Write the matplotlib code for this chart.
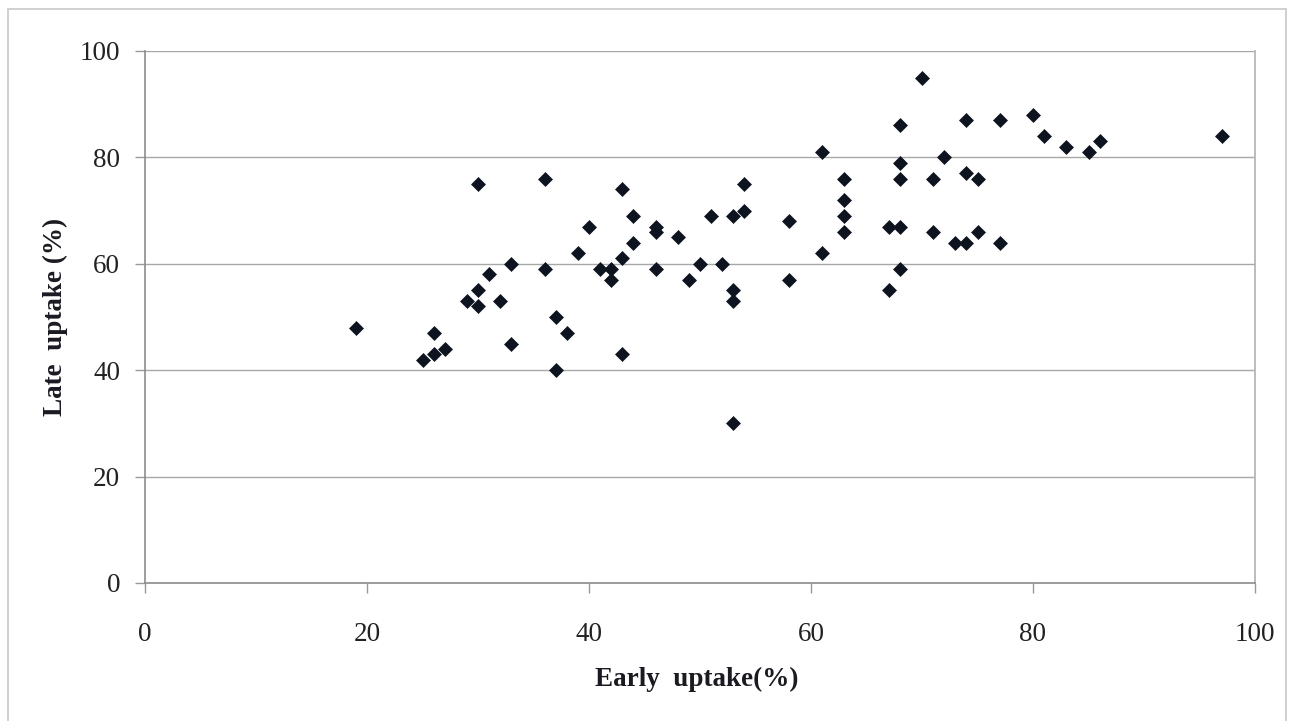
import matplotlib
matplotlib.use("Agg")
import matplotlib.pyplot as plt
from matplotlib.patches import Rectangle

# early / late uptake (%)
early = [19, 25, 26, 26, 27, 29, 30, 30, 30, 31, 32, 33, 33, 36, 36, 37, 37, 38,
         39, 40, 41, 42, 42, 43, 43, 43, 44, 44, 46, 46, 46, 48, 49, 50, 51, 52,
         53, 53, 53, 53, 54, 54, 58, 58, 61, 61, 63, 63, 63, 63, 67, 67, 68, 68,
         68, 68, 68, 70, 71, 71, 72, 73, 74, 74, 74, 75, 75, 77, 77, 80, 81, 83,
         85, 86, 97]
late = [48, 42, 43, 47, 44, 53, 55, 52, 75, 58, 53, 45, 60, 76, 59, 50, 40, 47,
        62, 67, 59, 59, 57, 74, 61, 43, 69, 64, 67, 66, 59, 65, 57, 60, 69, 60,
        69, 55, 53, 30, 75, 70, 68, 57, 81, 62, 76, 72, 69, 66, 67, 55, 86, 79,
        76, 67, 59, 95, 76, 66, 80, 64, 87, 77, 64, 76, 66, 87, 64, 88, 84, 82,
        81, 83, 84]

x_ticks = [0, 20, 40, 60, 80, 100]
y_ticks = [0, 20, 40, 60, 80, 100]

plt.rcParams["font.family"] = ["Liberation Serif", "DejaVu Serif"]

fig = plt.figure(figsize=(12.9, 7.21), dpi=100)
fig.patch.set_facecolor("white")

# outer chart border (light gray)
fig.patches.append(Rectangle((8 / 1290, -0.01), 1278 / 1290, 1 - 9 / 721 + 0.01,
                             transform=fig.transFigure, fill=False,
                             edgecolor="#c8c8c8", linewidth=1.2))

ax = fig.add_axes([145 / 1290, 1 - 583 / 721, 1110 / 1290, 532 / 721])

ax.scatter(early, late, marker="D", s=58, color="#0d1420", linewidths=0, zorder=3)

ax.set_xlim(0, 100)
ax.set_ylim(0, 100)
ax.set_xticks(x_ticks)
ax.set_yticks(y_ticks)
ax.tick_params(axis="both", labelsize=19.5, colors="#222222", length=7,
               width=1, direction="out")
ax.tick_params(axis="x", pad=21, color="#999999")
ax.tick_params(axis="y", pad=11, color="#999999")

ax.yaxis.grid(True, color="#a8a8a8", linewidth=1)
ax.set_axisbelow(True)

ax.spines["top"].set_visible(False)
ax.spines["right"].set_color("#b0b0b0")
ax.spines["left"].set_color("#8c8c8c")
ax.spines["bottom"].set_color("#8c8c8c")
for s in ax.spines.values():
    s.set_linewidth(1.2)

ax.set_xlabel("Early  uptake(%)", fontsize=19.5, fontweight="bold",
              color="#1a1a22")
ax.set_ylabel("Late  uptake (%)", fontsize=19.5, fontweight="bold",
              color="#1a1a22")
ax.xaxis.set_label_coords(0.497, -0.158)
ax.yaxis.set_label_coords(-0.069, 0.5)

fig.savefig("out.png", dpi=100)
